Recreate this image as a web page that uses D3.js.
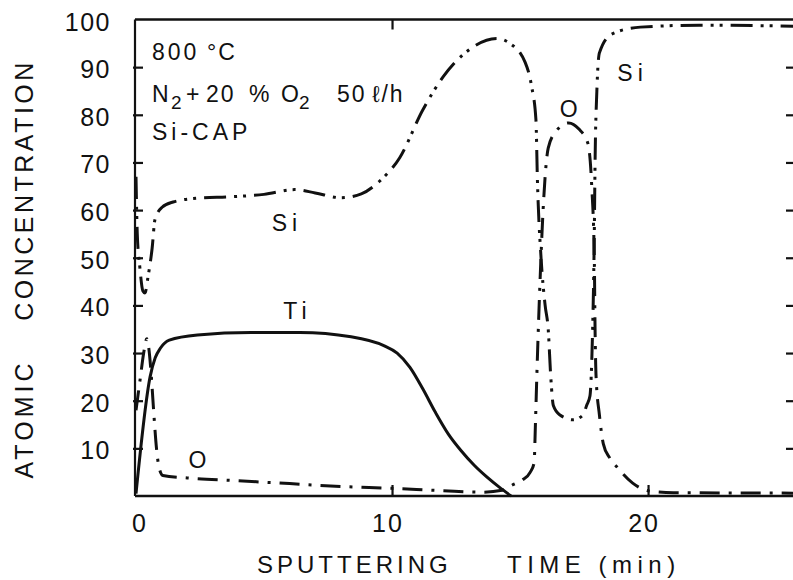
<!DOCTYPE html>
<html><head><meta charset="utf-8">
<script src="https://cdn.jsdelivr.net/npm/d3@7"></script>
<style>
body{margin:0;background:#fff;}
text{font-family:"Liberation Sans","DejaVu Sans",Arial,sans-serif;fill:#111;}
</style></head>
<body><svg id="c" width="793" height="580"></svg>
<script>
// ---- data ----
const yTicks = [10,20,30,40,50,60,70,80,90];
const yTickLabels = ["10","20","30","40","50","60","70","80","90","100"];
const yLabelValues = [10,20,30,40,50,60,70,80,90,100];
const xTicks = [0,10,20];
const xTickLabels = ["0","10","20"];

const siT = [0,0.05,0.15,0.27,0.35,0.47,0.63,0.74,1.02,1.45,2.4,3.7,5.0,6.2,7.0,8.0,8.8,9.5,10.3,11.2,12.0,13.0,14.1,14.6,15.2,15.45,15.62,15.68,15.82,15.98,16.1,16.2,16.3,16.56,17.07,17.46,17.6,17.73,17.81,17.9,17.93,18.0,18.1,18.6,19.7,22.0,25.7];
const siV = [67,55,48,43,42.6,46,52,58,60.6,61.7,62.5,62.8,63.3,64.3,63.6,62.6,63.4,66,71,81,88,93.6,96,95,91,86,79,66,50,40,35,25,19,17,16,17,19,21,30,55,70,85,93,97,98.4,98.8,98.6];

const tiT = [0,0.55,0.75,0.95,1.3,2.4,4.5,6.4,8.4,9.7,10.2,10.7,11.2,11.7,12.2,12.7,13.2,13.7,14.2,14.65];
const tiV = [0.5,25,29,31,32.7,33.8,34.3,34.3,33.4,31.5,30,27,22.5,17.5,13,9.5,6.5,4,1.8,0];

const oT = [0,0.15,0.3,0.42,0.5,0.6,0.7,0.8,0.9,1.05,2,4,6,8,10,12,13.5,14.3,14.7,15.1,15.4,15.55,15.6,15.66,15.78,15.9,16.1,16.4,16.9,17.3,17.65,17.8,17.9,17.93,17.97,18.1,18.25,18.5,18.8,19.4,20.1,21,25.7];
const oV = [18,24,30,33,31,25,17,10,6,4.3,3.8,3.2,2.6,2.0,1.6,1.1,0.8,1.2,2.3,3.4,5,7,15,26,45,60,73,76.5,78.3,77,74,65,50,35,25,17,11,8,6,2.7,1,0.7,0.6];

const labels = [
  {text:"Si", x:5.3, y:55.6},
  {text:"Ti", x:5.75, y:37.2},
  {text:"O", x:2.05, y:5.9},
  {text:"O", x:16.55, y:79.5},
  {text:"Si", x:18.8, y:87}
];

// ---- scales ----
const svg = d3.select("#c");
const x = d3.scaleLinear().domain([0,25.7]).range([136,794]);
const y = d3.scaleLinear().domain([0,100]).range([496,19.5]);

// frame
const g = svg.append("g");
g.append("line").attr("x1",135).attr("x2",795).attr("y1",y(0)).attr("y2",y(0)).attr("stroke","#111").attr("stroke-width",2.5);
g.append("line").attr("x1",135).attr("x2",795).attr("y1",y(100)).attr("y2",y(100)).attr("stroke","#111").attr("stroke-width",2.5);
g.append("line").attr("x1",135).attr("x2",135).attr("y1",y(100)).attr("y2",y(0)).attr("stroke","#111").attr("stroke-width",2.2);

// axes ticks (inward)
const axL = svg.append("g").attr("transform","translate(133,0)")
  .call(d3.axisRight(y).tickValues(yTicks).tickSize(10).tickFormat(""));
const axR = svg.append("g").attr("transform","translate(794,0)")
  .call(d3.axisLeft(y).tickValues(yTicks).tickSize(8).tickFormat(""));
const axB = svg.append("g").attr("transform","translate(0,"+y(0)+")")
  .call(d3.axisTop(x).tickValues([10,20]).tickSize(11).tickFormat(""));
const axT = svg.append("g").attr("transform","translate(0,"+y(100)+")")
  .call(d3.axisBottom(x).tickValues([10]).tickSize(10).tickFormat(""));
[axL,axR,axB,axT].forEach(a=>{a.select(".domain").remove();a.selectAll("line").attr("stroke","#111").attr("stroke-width",2.2);});

// tick labels
svg.append("g").selectAll("text").data(yLabelValues).join("text")
  .attr("x",111).attr("y",d=>y(d)+11).attr("text-anchor","end")
  .attr("font-size",25).attr("letter-spacing",1.5)
  .text((d,i)=>yTickLabels[i]);
svg.append("g").selectAll("text").data(xTicks).join("text")
  .attr("x",d=>x(d)+(d===0?4:-4)).attr("y",532).attr("text-anchor","middle")
  .attr("font-size",25).attr("letter-spacing",2)
  .text((d,i)=>xTickLabels[i]);

// axis titles
svg.append("text").attr("x",257).attr("y",573).attr("font-size",24).attr("letter-spacing",4).text("SPUTTERING");
svg.append("text").attr("x",507).attr("y",573).attr("font-size",24).attr("letter-spacing",5.5).text("TIME (min)");
svg.append("text").attr("transform","translate(33,419) rotate(-90)").attr("text-anchor","middle")
  .attr("font-size",25).attr("letter-spacing",4).text("ATOMIC");
svg.append("text").attr("transform","translate(33,190) rotate(-90)").attr("text-anchor","middle")
  .attr("font-size",25).attr("letter-spacing",3.5).text("CONCENTRATION");

// annotation block
const ann = svg.append("g").attr("font-size",23);
ann.append("text").attr("x",152).attr("y",60).attr("letter-spacing",3).text("800");
ann.append("text").attr("x",207).attr("y",60).attr("letter-spacing",2).text("°C");
const l2 = ann.append("text").attr("y",102);
l2.append("tspan").attr("x",152).text("N");
l2.append("tspan").attr("x",171).attr("y",109).attr("font-size",19).text("2");
l2.append("tspan").attr("x",186).attr("y",102).text("+");
l2.append("tspan").attr("x",206).attr("letter-spacing",2).text("20");
l2.append("tspan").attr("x",249).text("%");
l2.append("tspan").attr("x",281).text("O");
l2.append("tspan").attr("x",299).attr("y",109).attr("font-size",19).text("2");
l2.append("tspan").attr("x",337).attr("y",102).attr("letter-spacing",2).text("50");
l2.append("tspan").attr("x",372).attr("letter-spacing",2).text("ℓ/h");
ann.append("text").attr("x",152).attr("y",140).attr("letter-spacing",4).text("Si-CAP");

// curves
const line = d3.line().x(d=>x(d[0])).y(d=>y(d[1])).curve(d3.curveMonotoneX);
const zip = (a,b)=>a.map((v,i)=>[v,b[i]]);
const cg = svg.append("g").attr("fill","none").attr("stroke","#111").attr("stroke-width",3).attr("stroke-linecap","butt");
cg.append("path").attr("d",line(zip(tiT,tiV)));
cg.append("path").attr("d",line(zip(siT,siV))).attr("stroke-dasharray","22,8,3,6,3,8");
cg.append("path").attr("d",line(zip(oT,oV))).attr("stroke-dasharray","20,9,3,9");

// curve labels
svg.append("g").selectAll("text").data(labels).join("text")
  .attr("x",d=>x(d.x)).attr("y",d=>y(d.y)).attr("font-size",23).attr("letter-spacing",5)
  .text(d=>d.text);
</script></body></html>
